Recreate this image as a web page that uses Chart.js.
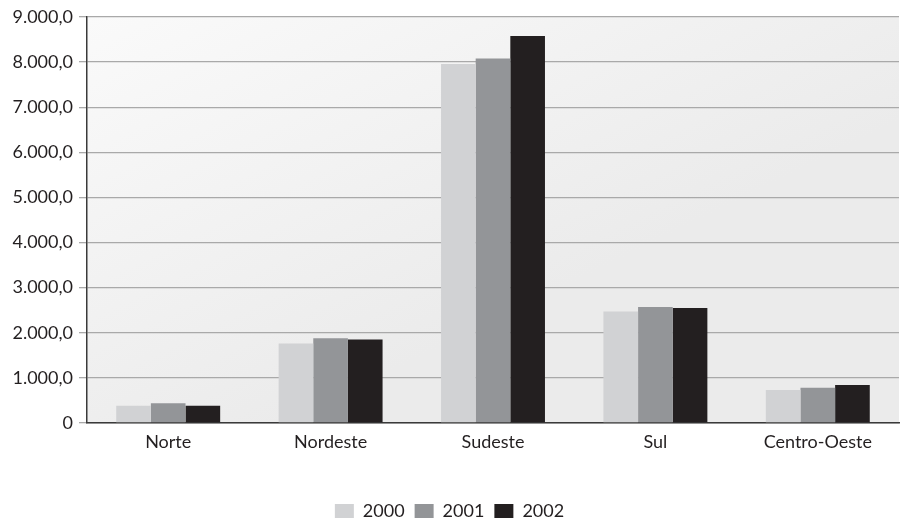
<!DOCTYPE html>
<html>
<head>
<meta charset="utf-8">
<script src="https://cdn.jsdelivr.net/npm/chart.js@4"></script>
<style>
    html, body { margin: 0; padding: 0; background: #ffffff; overflow: hidden; }
    #wrap { width: 902px; height: 530px; position: relative; }
</style>
</head>
<body>
<div id="wrap"><canvas id="chart"></canvas></div>
<script>
// Regions and yearly values
const regions = ['Norte', 'Nordeste', 'Sudeste', 'Sul', 'Centro-Oeste'];
const years = ['2000', '2001', '2002'];
const values2000 = [380, 1760, 7960, 2470, 730];
const values2001 = [440, 1880, 8080, 2570, 780];
const values2002 = [380, 1850, 8580, 2550, 840];

const BAR_COLORS = ['#d1d2d4', '#939598', '#231f20'];
const FONT = 'Lato, "Open Sans", sans-serif';

function formatTick(v) {
    if (v === 0) return '0';
    return v.toLocaleString('pt-BR', { minimumFractionDigits: 1, maximumFractionDigits: 1 });
}

// plot-area gradient backdrop
const plotBackground = {
    id: 'plotBackground',
    beforeDraw(chart) {
        const { ctx, chartArea: a } = chart;
        const g = ctx.createLinearGradient(a.left, a.top, a.left + 200, a.bottom);
        g.addColorStop(0, '#fafafa');
        g.addColorStop(1, '#ebebeb');
        ctx.save();
        ctx.fillStyle = g;
        ctx.fillRect(a.left, a.top, a.right - a.left, a.bottom - a.top);
        ctx.restore();
    },
};

const seriesValues = [values2000, values2001, values2002];

new Chart(document.getElementById('chart'), {
    type: 'bar',
    data: {
        labels: regions,
        datasets: years.map((y, i) => ({
            label: y,
            data: seriesValues[i],
            backgroundColor: BAR_COLORS[i],
            categoryPercentage: 0.64,
            barPercentage: 1.0,
        })),
    },
    options: {
        responsive: true,
        maintainAspectRatio: false,
        animation: false,
        layout: { padding: { top: 17, right: 3, left: 0, bottom: 0 } },
        plugins: {
            legend: {
                position: 'bottom',
                labels: {
                    color: '#231f20',
                    font: { family: FONT, size: 18 },
                    boxWidth: 19,
                    boxHeight: 14,
                    padding: 10,
                },
            },
            tooltip: { enabled: false },
        },
        scales: {
            x: {
                grid: { display: false },
                border: { display: true, color: '#3a3a3a', width: 1.5 },
                ticks: {
                    color: '#231f20',
                    font: { family: FONT, size: 18 },
                    padding: 0,
                },
                afterFit: scale => { scale.height = 69; },
            },
            y: {
                min: 0,
                max: 9000,
                ticks: {
                    stepSize: 1000,
                    color: '#231f20',
                    font: { family: FONT, size: 18 },
                    padding: 6,
                    callback: v => formatTick(v),
                },
                grid: {
                    color: '#a9a9a9',
                    lineWidth: 1.3,
                    tickLength: 8,
                },
                border: { display: true, color: '#3a3a3a', width: 1.5 },
                afterFit: scale => { scale.width = 87; },
            },
        },
    },
    plugins: [plotBackground],
});
</script>
</body>
</html>
